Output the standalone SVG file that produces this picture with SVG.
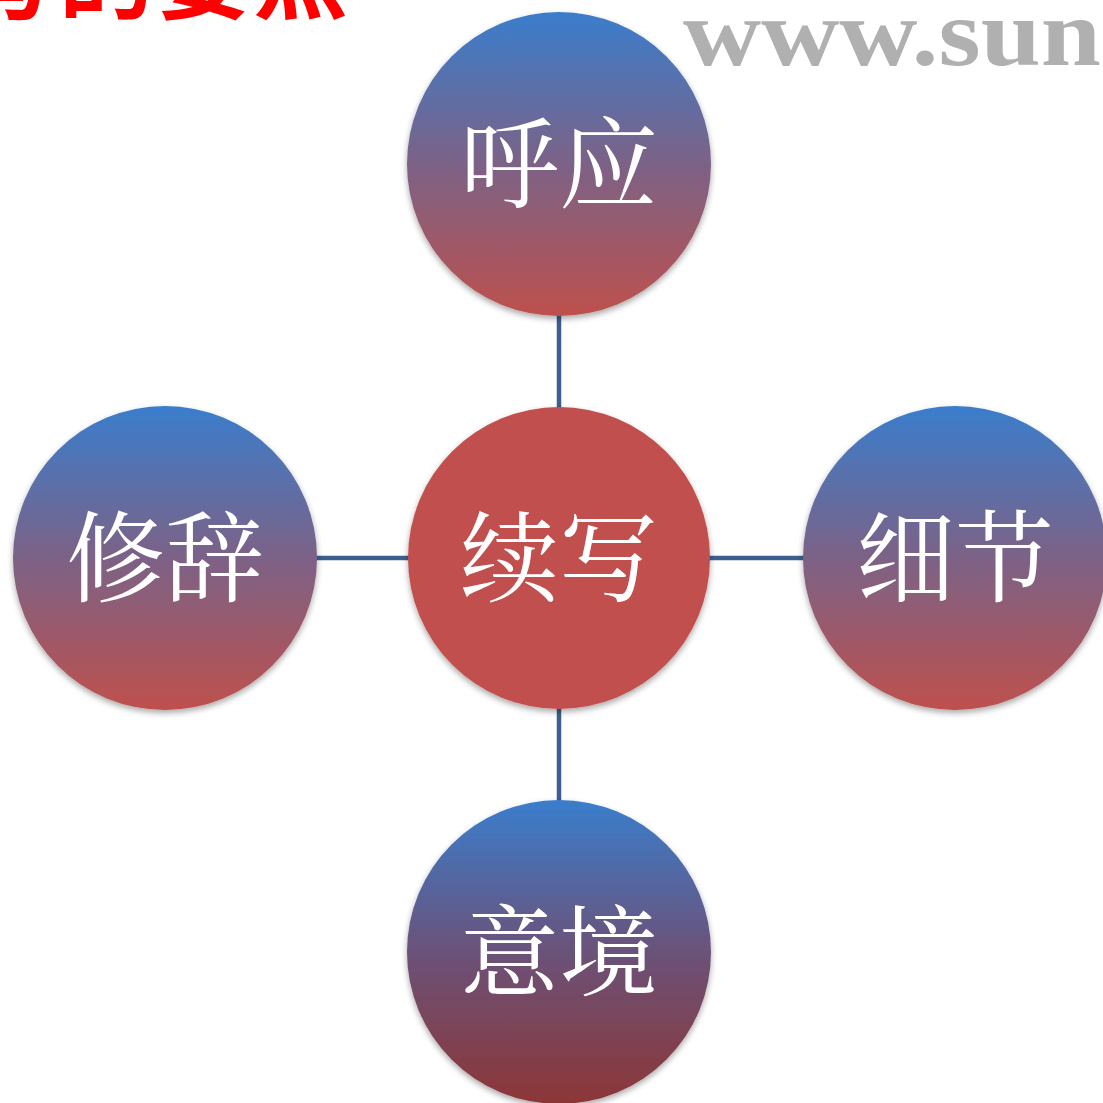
<svg xmlns="http://www.w3.org/2000/svg" width="1103" height="1103" viewBox="0 0 1103 1103">
<style>
.lbl{font-family:"Noto Serif CJK SC","Noto Sans CJK SC",serif;font-size:99px;fill:#ffffff;text-anchor:middle}
.conn{stroke:#3d5f8f;stroke-width:4.5;fill:none}
</style>
<defs>
<linearGradient id="g1" x1="0" y1="0" x2="0" y2="1">
<stop offset="0" stop-color="#3a7dcc"/>
<stop offset="0.5" stop-color="#7c6286"/>
<stop offset="1" stop-color="#be504d"/>
</linearGradient>
<linearGradient id="g2" x1="0" y1="0" x2="0" y2="1">
<stop offset="0" stop-color="#3a7dcc"/>
<stop offset="0.5" stop-color="#6b5279"/>
<stop offset="1" stop-color="#8c3636"/>
</linearGradient>
<filter id="sh" x="-10%" y="-10%" width="120%" height="125%">
<feGaussianBlur in="SourceAlpha" stdDeviation="3"/>
<feOffset dy="3" result="b"/>
<feComponentTransfer><feFuncA type="linear" slope="0.35"/></feComponentTransfer>
<feMerge><feMergeNode/><feMergeNode in="SourceGraphic"/></feMerge>
</filter>
</defs>
<rect width="1103" height="1103" fill="#ffffff"/>
<text x="-38" y="12" font-family="Noto Sans CJK SC,sans-serif" font-weight="bold" font-size="95" fill="#ff0000" letter-spacing="2">写的要点</text>
<text x="683" y="65" font-family="Liberation Serif,serif" font-weight="bold" font-size="96" fill="#b0b0b0" textLength="418" lengthAdjust="spacingAndGlyphs">www.sun</text>
<g id="connectors">
<line class="conn" x1="559" y1="310" x2="559" y2="410"/>
<line class="conn" x1="559" y1="706" x2="559" y2="806"/>
<line class="conn" x1="312" y1="558" x2="412" y2="558"/>
<line class="conn" x1="706" y1="558" x2="808" y2="558"/>
</g>
<g id="node-top"><circle cx="559" cy="164" r="152" fill="url(#g1)" filter="url(#sh)"/><text class="lbl" x="559" y="200">呼应</text></g>
<g id="node-center"><circle cx="559" cy="558" r="151" fill="#c0504d" filter="url(#sh)"/><text class="lbl" x="559" y="594">续写</text></g>
<g id="node-left"><circle cx="165" cy="558" r="152" fill="url(#g1)" filter="url(#sh)"/><text class="lbl" x="165" y="594">修辞</text></g>
<g id="node-right"><circle cx="955" cy="558" r="152" fill="url(#g1)" filter="url(#sh)"/><text class="lbl" x="955" y="594">细节</text></g>
<g id="node-bottom"><circle cx="559" cy="952" r="152" fill="url(#g2)" filter="url(#sh)"/><text class="lbl" x="559" y="988">意境</text></g>
</svg>
